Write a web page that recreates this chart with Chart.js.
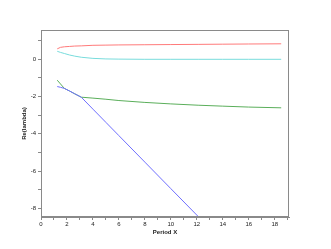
<!DOCTYPE html>
<html>
<head>
<meta charset="utf-8">
<script src="https://cdn.jsdelivr.net/npm/chart.js"></script>
<style>
  body { margin: 0; background: #fff; }
</style>
</head>
<body>
<canvas id="myChart" width="331" height="249"></canvas>
<script>
const periods = [1.25, 1.5, 1.8, 2.2, 2.6, 3.1, 4, 5, 6, 8, 10, 12.1, 14, 16, 18.5];
const redVals = [0.55, 0.63, 0.66, 0.68, 0.7, 0.71, 0.74, 0.75, 0.76, 0.77, 0.78, 0.79, 0.8, 0.81, 0.82];
const cyanVals = [0.42, 0.36, 0.3, 0.22, 0.16, 0.1, 0.04, 0.01, 0.0, -0.01, -0.01, -0.01, -0.01, -0.01, -0.01];
const greenVals = [-1.13, -1.33, -1.57, -1.71, -1.86, -2.04, -2.09, -2.15, -2.22, -2.32, -2.4, -2.47, -2.52, -2.57, -2.61];
const blueVals = [-1.47, -1.51, -1.57, -1.71, -1.86, -2.04, -2.68, -3.39, -4.1, -5.52, -6.94, -8.43, null, null, null];
const xTicks = [0, 1, 2, 3, 4, 5, 6, 7, 8, 9, 10, 11, 12, 13, 14, 15, 16, 17, 18, 19];
const yTicks = [-8, -7, -6, -5, -4, -3, -2, -1, 0, 1];

const AXIS = '#8a8a8a';
const FONT = 'Liberation Sans';

function pts(vals) {
  return periods.map((p, i) => ({ x: p, y: vals[i] }));
}

// box round the plot
const frame = {
  id: 'frame',
  afterDraw(chart) {
    const { ctx, chartArea: { top, left, bottom, right } } = chart;
    ctx.save();
    ctx.strokeStyle = AXIS;
    ctx.lineWidth = 1;
    ctx.strokeRect(left + 0.5, top + 0.5, right - left - 1, bottom - top - 1);
    ctx.restore();
  }
};

const evenLabel = v => (v % 2 === 0 ? String(v) : '');

new Chart(document.getElementById('myChart'), {
  type: 'line',
  data: {
    datasets: [
      { data: pts(blueVals), borderColor: '#6f6fff' },
      { data: pts(greenVals), borderColor: '#5aae5a' },
      { data: pts(cyanVals), borderColor: '#78dcdc' },
      { data: pts(redVals), borderColor: '#ff7a7a' },
    ].map(d => Object.assign(d, { borderWidth: 1, pointRadius: 0, tension: 0, fill: false, spanGaps: false }))
  },
  options: {
    responsive: false,
    animation: false,
    layout: { padding: { top: 30, right: 42, left: 0, bottom: 0 } },
    scales: {
      x: {
        type: 'linear',
        min: 0,
        max: 19.1,
        afterBuildTicks: s => { s.ticks = xTicks.map(v => ({ value: v })); },
        afterFit: s => { s.height = 32; },
        border: { display: true, color: AXIS },
        grid: { drawOnChartArea: false, drawTicks: true, tickLength: 3, color: AXIS },
        ticks: { autoSkip: false, maxRotation: 0, padding: 1, color: '#222', font: { family: FONT, size: 6 }, callback: evenLabel },
        title: { display: true, text: 'Period X', color: '#222', font: { family: FONT, size: 6, weight: 'bold' }, padding: { top: 0, bottom: 13 } }
      },
      y: {
        min: -8.46,
        max: 1.56,
        afterBuildTicks: s => { s.ticks = yTicks.map(v => ({ value: v })); },
        afterFit: s => { s.width = 41; },
        border: { display: true, color: AXIS },
        grid: { drawOnChartArea: false, drawTicks: true, tickLength: 3, color: AXIS },
        ticks: { autoSkip: false, padding: 2, color: '#222', font: { family: FONT, size: 6 }, callback: evenLabel },
        title: { display: true, text: 'Re(lambda)', color: '#222', font: { family: FONT, size: 6, weight: 'bold' }, padding: { top: 21, bottom: 0 } }
      }
    },
    plugins: {
      legend: { display: false },
      tooltip: { enabled: false }
    }
  },
  plugins: [frame]
});
</script>
</body>
</html>
